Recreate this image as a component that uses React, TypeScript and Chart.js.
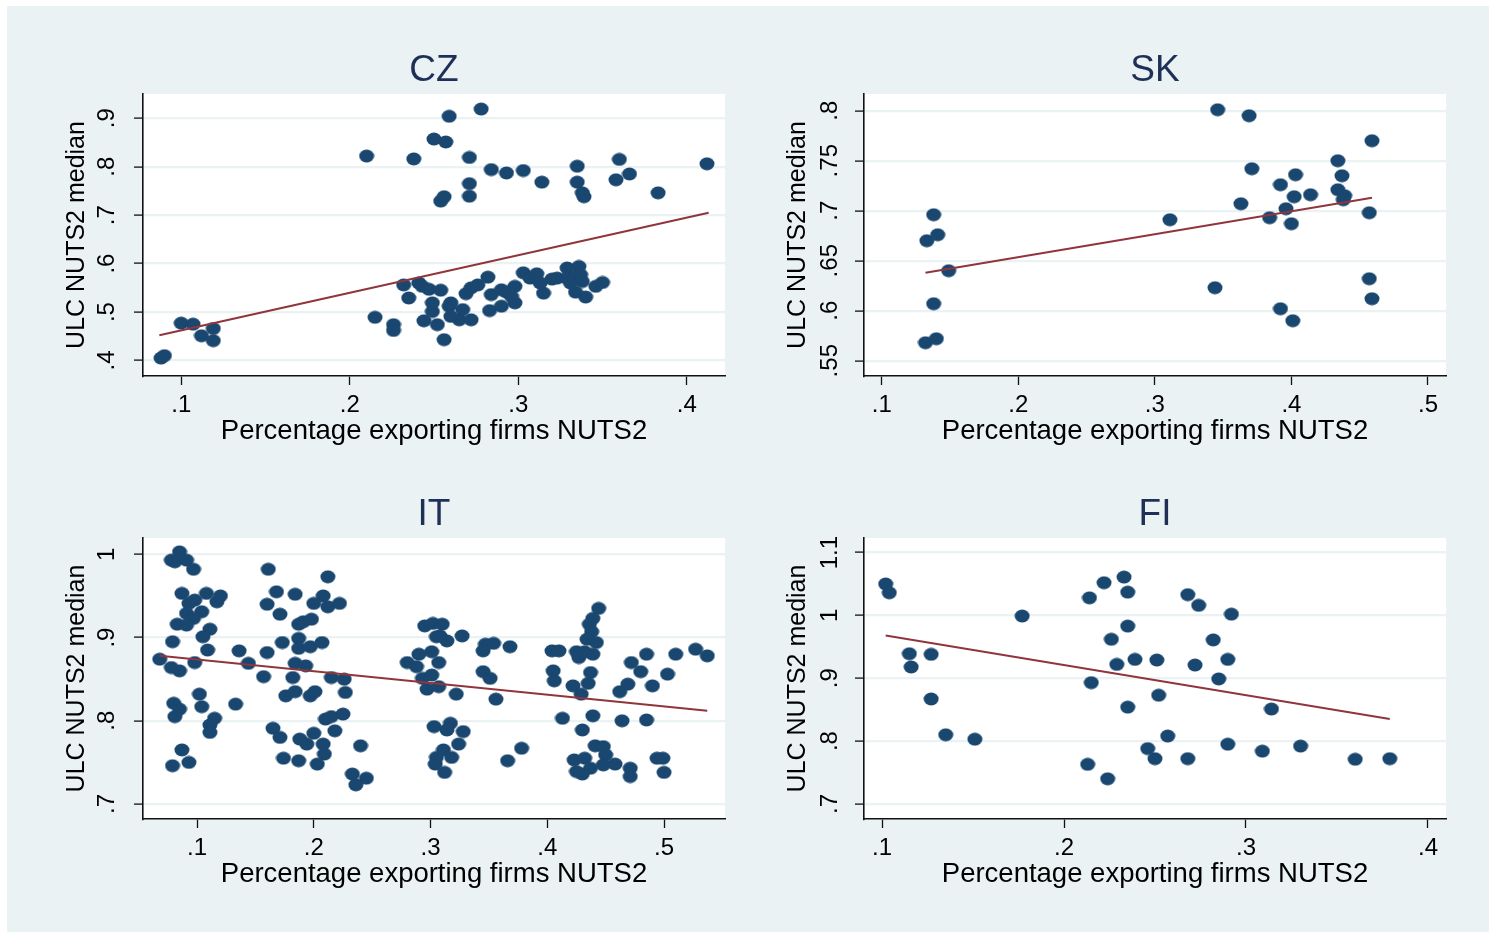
import React, { useEffect, useRef } from 'react';
import { Chart, registerables } from 'chart.js';
Chart.register(...registerables);

// ---------------- DATA ----------------
const xAxisTitle = 'Percentage exporting firms NUTS2';
const yAxisTitle = 'ULC NUTS2 median';

// CZ
const czX = [0.088, 0.090, 0.100, 0.107, 0.112, 0.119, 0.119,
  0.210, 0.238, 0.250, 0.257, 0.259, 0.278, 0.271, 0.284, 0.293, 0.303, 0.314, 0.271, 0.271, 0.254, 0.256, 0.335, 0.335, 0.338, 0.339, 0.360, 0.358, 0.366, 0.383, 0.412,
  0.215, 0.226, 0.226, 0.232, 0.235, 0.241, 0.243, 0.244, 0.247, 0.249, 0.252, 0.254, 0.256, 0.259, 0.260, 0.265, 0.267, 0.269, 0.272, 0.272, 0.276, 0.282, 0.284, 0.283, 0.290, 0.293, 0.298, 0.298, 0.303, 0.307, 0.311, 0.315, 0.320, 0.323, 0.329, 0.336, 0.329, 0.335, 0.337, 0.334, 0.340, 0.346, 0.350, 0.296, 0.290, 0.313, 0.331, 0.338, 0.260, 0.249];
const czY = [0.405, 0.410, 0.477, 0.475, 0.451, 0.466, 0.441,
  0.822, 0.816, 0.857, 0.851, 0.904, 0.919, 0.819, 0.794, 0.787, 0.792, 0.768, 0.765, 0.739, 0.729, 0.738, 0.801, 0.768, 0.746, 0.738, 0.815, 0.773, 0.785, 0.746, 0.806,
  0.489, 0.474, 0.462, 0.556, 0.529, 0.560, 0.553, 0.482, 0.547, 0.501, 0.474, 0.545, 0.443, 0.512, 0.519, 0.484, 0.505, 0.538, 0.484, 0.550, 0.556, 0.572, 0.536, 0.503, 0.512, 0.541, 0.553, 0.519, 0.581, 0.570, 0.579, 0.539, 0.568, 0.570, 0.591, 0.594, 0.570, 0.574, 0.577, 0.541, 0.531, 0.553, 0.561, 0.532, 0.546, 0.560, 0.560, 0.563, 0.491, 0.519];
const czFitX = [0.087, 0.413];
const czFitY = [0.452, 0.705];
const czXTicks = [0.1, 0.2, 0.3, 0.4];
const czYTicks = [0.4, 0.5, 0.6, 0.7, 0.8, 0.9];

// SK
const skX = [0.138, 0.133, 0.141, 0.149, 0.138, 0.132, 0.140, 0.346, 0.369, 0.459, 0.371, 0.434, 0.437, 0.403, 0.392, 0.402, 0.414, 0.363, 0.434, 0.439, 0.438, 0.396, 0.384, 0.400, 0.457, 0.311, 0.344, 0.392, 0.401, 0.457, 0.459];
const skY = [0.696, 0.670, 0.676, 0.640, 0.607, 0.568, 0.572, 0.801, 0.795, 0.770, 0.742, 0.750, 0.735, 0.736, 0.726, 0.714, 0.716, 0.707, 0.721, 0.715, 0.711, 0.702, 0.693, 0.687, 0.698, 0.691, 0.623, 0.602, 0.590, 0.632, 0.612];
const skFitX = [0.132, 0.459];
const skFitY = [0.638, 0.713];
const skXTicks = [0.1, 0.2, 0.3, 0.4, 0.5];
const skYTicks = [0.55, 0.6, 0.65, 0.7, 0.75, 0.8];

// IT
const itX = [0.068, 0.078, 0.085, 0.081, 0.091, 0.097, 0.087, 0.093, 0.098, 0.108, 0.120, 0.117, 0.091, 0.104, 0.097, 0.083, 0.091, 0.111, 0.105, 0.079, 0.109, 0.098, 0.078, 0.085, 0.080, 0.085, 0.081, 0.102, 0.104, 0.115, 0.111, 0.111, 0.087, 0.079, 0.093, 0.133, 0.136, 0.144,
  0.161, 0.168, 0.160, 0.171, 0.184, 0.160, 0.173, 0.157, 0.187, 0.191, 0.198, 0.187, 0.187, 0.197, 0.207, 0.184, 0.193, 0.182, 0.176, 0.184, 0.197, 0.201, 0.208, 0.200, 0.212, 0.222, 0.212, 0.215, 0.226, 0.227, 0.210, 0.215, 0.225, 0.218, 0.165, 0.171, 0.188, 0.194, 0.200, 0.208, 0.209, 0.174, 0.187, 0.203, 0.240, 0.233, 0.245, 0.236,
  0.280, 0.288, 0.290, 0.301, 0.295, 0.302, 0.305, 0.293, 0.301, 0.297, 0.303, 0.305, 0.304, 0.310, 0.308, 0.314, 0.327, 0.307, 0.307, 0.322, 0.317, 0.314, 0.328, 0.324, 0.311, 0.318, 0.312, 0.347, 0.354, 0.345, 0.368, 0.345, 0.351, 0.356, 0.378, 0.366,
  0.404, 0.410, 0.405, 0.406, 0.413, 0.444, 0.439, 0.436, 0.438, 0.434, 0.442, 0.425, 0.427, 0.439, 0.432, 0.437, 0.435, 0.422, 0.429, 0.430, 0.439, 0.441, 0.448, 0.450, 0.423, 0.432, 0.437, 0.430, 0.425, 0.448, 0.458, 0.471, 0.471, 0.462, 0.469, 0.472, 0.480, 0.485, 0.490, 0.503, 0.510, 0.527, 0.537, 0.464, 0.485, 0.494, 0.499, 0.500];
const itY = [0.874, 0.993, 1.003, 0.991, 0.993, 0.982, 0.953, 0.941, 0.945, 0.953, 0.950, 0.943, 0.929, 0.931, 0.923, 0.916, 0.915, 0.910, 0.901, 0.895, 0.885, 0.870, 0.864, 0.860, 0.821, 0.814, 0.805, 0.832, 0.817, 0.803, 0.795, 0.786, 0.765, 0.746, 0.750, 0.820, 0.884, 0.869,
  0.982, 0.955, 0.940, 0.928, 0.952, 0.882, 0.894, 0.853, 0.916, 0.919, 0.922, 0.899, 0.887, 0.889, 0.894, 0.869, 0.866, 0.852, 0.830, 0.835, 0.830, 0.835, 0.950, 0.941, 0.937, 0.941, 0.973, 0.852, 0.850, 0.834, 0.802, 0.805, 0.808, 0.788, 0.791, 0.780, 0.778, 0.772, 0.785, 0.772, 0.760, 0.755, 0.752, 0.748, 0.770, 0.736, 0.731, 0.723,
  0.870, 0.865, 0.880, 0.883, 0.914, 0.917, 0.901, 0.851, 0.855, 0.838, 0.793, 0.756, 0.748, 0.916, 0.902, 0.896, 0.902, 0.870, 0.841, 0.832, 0.797, 0.789, 0.787, 0.772, 0.765, 0.756, 0.738, 0.892, 0.893, 0.884, 0.889, 0.859, 0.851, 0.826, 0.767, 0.752,
  0.884, 0.884, 0.860, 0.848, 0.803, 0.935, 0.923, 0.916, 0.907, 0.898, 0.894, 0.883, 0.876, 0.880, 0.883, 0.858, 0.845, 0.842, 0.832, 0.789, 0.806, 0.770, 0.769, 0.759, 0.753, 0.755, 0.743, 0.736, 0.739, 0.747, 0.748, 0.743, 0.733, 0.835, 0.844, 0.870, 0.859, 0.880, 0.842, 0.856, 0.880, 0.886, 0.878, 0.800, 0.801, 0.755, 0.755, 0.738];
const itFitX = [0.068, 0.537];
const itFitY = [0.878, 0.812];
const itXTicks = [0.1, 0.2, 0.3, 0.4, 0.5];
const itYTicks = [0.7, 0.8, 0.9, 1];

// FI
const fiX = [0.102, 0.104, 0.115, 0.116, 0.127, 0.127, 0.135, 0.151, 0.177, 0.214, 0.222, 0.233, 0.235, 0.235, 0.226, 0.229, 0.239, 0.215, 0.235, 0.213, 0.224, 0.251, 0.252, 0.257, 0.246, 0.250, 0.268, 0.268, 0.274, 0.292, 0.282, 0.272, 0.290, 0.285, 0.290, 0.314, 0.309, 0.330, 0.360, 0.379];
const fiY = [1.050, 1.036, 0.939, 0.918, 0.938, 0.867, 0.810, 0.803, 0.999, 1.028, 1.052, 1.061, 1.037, 0.983, 0.962, 0.922, 0.930, 0.893, 0.854, 0.763, 0.740, 0.929, 0.873, 0.808, 0.788, 0.772, 0.772, 1.033, 1.016, 1.002, 0.961, 0.921, 0.930, 0.899, 0.795, 0.851, 0.784, 0.792, 0.771, 0.772];
const fiFitX = [0.102, 0.379];
const fiFitY = [0.968, 0.835];
const fiXTicks = [0.1, 0.2, 0.3, 0.4];
const fiYTicks = [0.7, 0.8, 0.9, 1, 1.1];

// ---------------- STYLE ----------------
const FONT = '"Liberation Sans", Arial, Helvetica, sans-serif';
const MARKER = '#1a476f';
const FIT = '#90353b';
const GRID = '#eaf2f3';
const PAGE_BG = '#eaf2f3';
const TITLE_COLOR = '#1e2f58';
const Y_AXIS_W = 100;
const TOP_H = 88;
const X_AXIS_H = 80;
const RIGHT_PAD = 10;
const TICK_SIZE = 24;

const panels = [
  { title: 'CZ', xs: czX, ys: czY, fitX: czFitX, fitY: czFitY, xTicks: czXTicks, yTicks: czYTicks,
    xMin: 0.0773, xMax: 0.4227, yMin: 0.368, yMax: 0.950, L: 143, T: 94, R: 725, B: 376, yPad: 16.5 },
  { title: 'SK', xs: skX, ys: skY, fitX: skFitX, fitY: skFitY, xTicks: skXTicks, yTicks: skYTicks,
    xMin: 0.0870, xMax: 0.5132, yMin: 0.5347, yMax: 0.8167, L: 864, T: 94, R: 1446, B: 376, yPad: 7.8 },
  { title: 'IT', xs: itX, ys: itY, fitX: itFitX, fitY: itFitY, xTicks: itXTicks, yTicks: itYTicks,
    xMin: 0.0537, xMax: 0.5522, yMin: 0.682, yMax: 1.0196, L: 143, T: 538, R: 725, B: 819, yPad: 16.5 },
  { title: 'FI', xs: fiX, ys: fiY, fitX: fiFitX, fitY: fiFitY, xTicks: fiXTicks, yTicks: fiYTicks,
    xMin: 0.0901, xMax: 0.4099, yMin: 0.676, yMax: 1.1232, L: 864, T: 538, R: 1446, B: 819, yPad: 7.8 },
];

const fmt = (v: number) => String(+(+v).toFixed(3)).replace(/^0\./, '.');

const plotBg = {
  id: 'plotBg',
  beforeDraw(chart: any) {
    const { ctx, chartArea: a } = chart;
    ctx.save();
    ctx.fillStyle = '#ffffff';
    ctx.fillRect(a.left, a.top, a.right - a.left, a.bottom - a.top);
    ctx.restore();
  },
};

function makeMarker() {
  const c = document.createElement('canvas');
  c.width = 16;
  c.height = 14;
  const m = c.getContext('2d')!;
  m.fillStyle = MARKER;
  m.beginPath();
  m.ellipse(8, 7, 7.5, 6.4, 0, 0, Math.PI * 2);
  m.fill();
  return c;
}

function Panel({ cfg }: { cfg: any }) {
  const ref = useRef<HTMLCanvasElement>(null);
  const w = cfg.R - cfg.L + Y_AXIS_W + RIGHT_PAD;
  const h = cfg.B - cfg.T + TOP_H + X_AXIS_H;
  useEffect(() => {
    const marker = makeMarker();
    const chart = new Chart(ref.current as HTMLCanvasElement, {
      type: 'scatter',
      data: {
        datasets: [
          {
            type: 'line',
            data: cfg.fitX.map((x: number, i: number) => ({ x, y: cfg.fitY[i] })),
            borderColor: FIT,
            borderWidth: 2,
            pointRadius: 0,
            fill: false,
            tension: 0,
            order: 0,
          } as any,
          {
            type: 'scatter',
            data: cfg.xs.map((x: number, i: number) => ({ x, y: cfg.ys[i] })),
            pointStyle: marker,
            pointRadius: 7,
            backgroundColor: MARKER,
            borderColor: MARKER,
            order: 1,
          } as any,
        ],
      },
      options: {
        animation: false,
        responsive: false,
        devicePixelRatio: 1,
        layout: { padding: { left: 0, top: 0, right: RIGHT_PAD, bottom: 0 } },
        plugins: {
          legend: { display: false },
          tooltip: { enabled: false },
          title: {
            display: true,
            text: cfg.title,
            fullSize: false,
            color: TITLE_COLOR,
            font: { family: FONT, size: 37, weight: 'normal', lineHeight: 1.2 },
            padding: { top: 42.8, bottom: 0.8 },
          },
        },
        scales: {
          x: {
            type: 'linear',
            position: 'bottom',
            min: cfg.xMin,
            max: cfg.xMax,
            afterFit: (s: any) => { s.height = X_AXIS_H; },
            afterBuildTicks: (s: any) => { s.ticks = cfg.xTicks.map((v: number) => ({ value: v })); },
            ticks: {
              callback: (v: any) => fmt(v),
              font: { family: FONT, size: TICK_SIZE, lineHeight: 1.2 },
              color: '#000',
              padding: 6.1,
              maxRotation: 0,
              minRotation: 0,
              autoSkip: false,
            },
            grid: { drawOnChartArea: false, drawTicks: true, tickLength: 9, tickColor: '#111', tickWidth: 1.3 },
            border: { display: true, color: '#111', width: 1.6 },
            title: {
              display: true,
              text: xAxisTitle,
              color: '#000',
              font: { family: FONT, size: 27.5, lineHeight: 1.2 },
              padding: { top: 0, bottom: 8.5 },
            },
          },
          y: {
            type: 'linear',
            position: 'left',
            min: cfg.yMin,
            max: cfg.yMax,
            afterFit: (s: any) => { s.width = Y_AXIS_W; },
            afterBuildTicks: (s: any) => { s.ticks = cfg.yTicks.map((v: number) => ({ value: v })); },
            ticks: {
              callback: (v: any) => fmt(v),
              font: { family: FONT, size: TICK_SIZE, lineHeight: 1.2 },
              color: '#000',
              padding: cfg.yPad,
              minRotation: 90,
              maxRotation: 90,
              crossAlign: 'center',
              autoSkip: false,
            },
            grid: { color: GRID, lineWidth: 2.2, drawTicks: true, tickLength: 9, tickColor: '#111', tickWidth: 1.3 },
            border: { display: true, color: '#111', width: 1.6 },
            title: {
              display: true,
              text: yAxisTitle,
              color: '#000',
              font: { family: FONT, size: 25, lineHeight: 1.2 },
              padding: { top: 19.5, bottom: 0 },
            },
          },
        },
      } as any,
      plugins: [plotBg],
    });
    return () => chart.destroy();
  }, []);
  return (
    <canvas
      ref={ref}
      width={w}
      height={h}
      style={{ position: 'absolute', left: cfg.L - Y_AXIS_W, top: cfg.T - TOP_H, width: w, height: h }}
    />
  );
}

export default function App() {
  return (
    <div style={{ position: 'absolute', left: 0, top: 0, width: 1489, height: 932, background: '#ffffff', overflow: 'hidden' }}>
      <div style={{ position: 'absolute', left: 7, top: 6, width: 1482, height: 926, background: PAGE_BG }} />
      {panels.map((p) => (
        <Panel key={p.title} cfg={p} />
      ))}
    </div>
  );
}
